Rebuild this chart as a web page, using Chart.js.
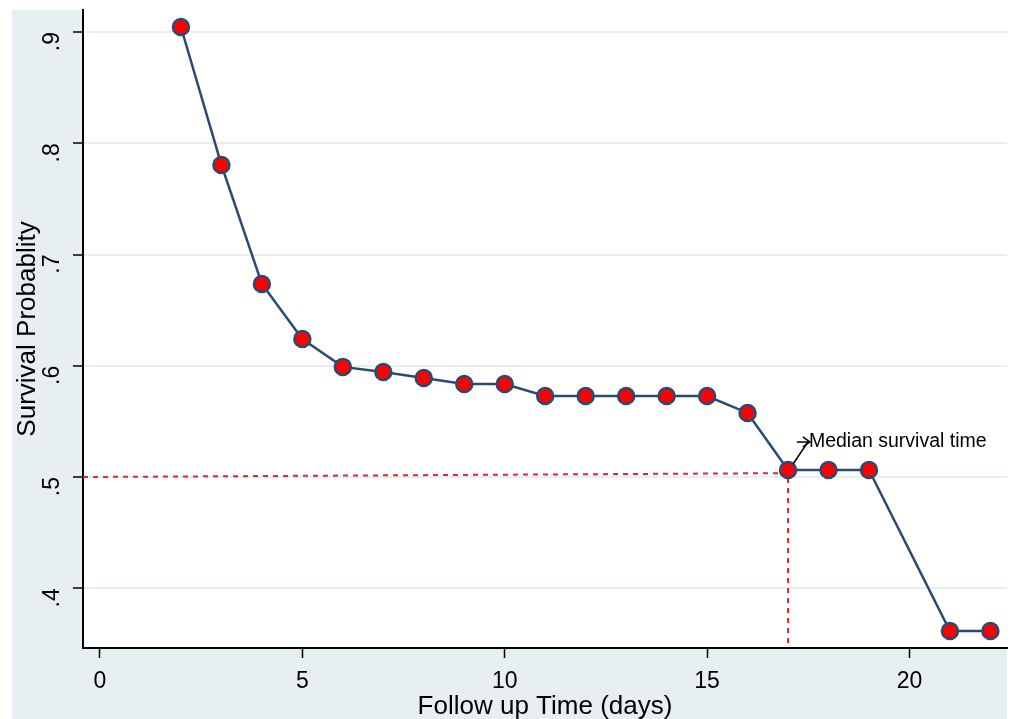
<!DOCTYPE html>
<html>
<head>
<meta charset="utf-8">
<script src="https://cdn.jsdelivr.net/npm/chart.js@4.4.0/dist/chart.umd.min.js"></script>
<style>
  html, body { margin: 0; padding: 0; background: #ffffff; }
  #wrap { width: 1013px; height: 719px; }
</style>
</head>
<body>
<div id="wrap"><canvas id="survChart"></canvas></div>
<script>
// follow up days and survival probability
var days = [2, 3, 4, 5, 6, 7, 8, 9, 10, 11, 12, 13, 14, 15, 16, 17, 18, 19, 21, 22];
var survival = [0.9045, 0.7805, 0.6735, 0.624, 0.599, 0.5944, 0.589, 0.5836, 0.5836, 0.5728,
                0.5728, 0.5728, 0.5728, 0.5728, 0.5576, 0.5063, 0.5063, 0.5063, 0.3616, 0.3616];
var xTicks = [0, 5, 10, 15, 20];
var yTicks = [0.4, 0.5, 0.6, 0.7, 0.8, 0.9];
var medianDay = 17;
var medianLineY = [0.5, 0.5035];
var xRange = [-0.42, 22.41];
var yRange = [0.3463, 0.9198];
var noteText = 'Median survival time';
var notePos = [17.54, 0.5315];

var PANEL = '#e8eff2';
var FONT = "'Liberation Sans', Arial, sans-serif";

var points = days.map(function (d, i) { return { x: d, y: survival[i] }; });

var panelBg = {
    id: 'panelBg',
    beforeDraw: function (chart) {
        var ctx = chart.ctx, a = chart.chartArea;
        ctx.save();
        ctx.fillStyle = PANEL;
        ctx.fillRect(12, 10, a.right - 12, chart.height - 10);
        ctx.fillStyle = '#ffffff';
        ctx.fillRect(a.left, a.top, a.right - a.left, a.bottom - a.top);
        ctx.restore();
    },
    afterDatasetsDraw: function (chart) {
        var ctx = chart.ctx, xs = chart.scales.x, ys = chart.scales.y;
        var x0 = xs.getPixelForValue(medianDay), y0 = ys.getPixelForValue(survival[days.indexOf(medianDay)]);
        var x1 = xs.getPixelForValue(notePos[0]), y1 = ys.getPixelForValue(notePos[1]);
        ctx.save();
        // arrow
        ctx.strokeStyle = '#000000';
        ctx.lineWidth = 1.5;
        ctx.beginPath();
        ctx.moveTo(x0 + 5, y0 - 6);
        ctx.lineTo(x1 - 2, y1);
        ctx.stroke();
        ctx.beginPath();
        ctx.moveTo(x1 - 13, y1);
        ctx.lineTo(x1, y1);
        ctx.moveTo(x1 - 7, y1 - 5);
        ctx.lineTo(x1, y1);
        ctx.lineTo(x1 - 7, y1 + 5);
        ctx.stroke();
        ctx.fillStyle = '#000000';
        ctx.font = '19.5px ' + FONT;
        ctx.textBaseline = 'middle';
        ctx.textAlign = 'left';
        ctx.fillText(noteText, x1 - 1, y1);
        ctx.restore();
    }
};

var ctx = document.getElementById('survChart').getContext('2d');
var myChart = new Chart(ctx, {
    type: 'scatter',
    data: {
        datasets: [{
            label: 'median',
            data: [{ x: xRange[0], y: medianLineY[0] }, { x: medianDay, y: medianLineY[1] },
                   { x: medianDay, y: yRange[0] }],
            showLine: true,
            borderColor: '#ee2222',
            borderWidth: 2,
            borderDash: [5, 5],
            pointRadius: 0,
            order: 2
        }, {
            label: 'Survival',
            data: points,
            showLine: true,
            borderColor: '#2b4a72',
            borderWidth: 2.5,
            pointRadius: 8,
            pointHoverRadius: 8,
            pointBackgroundColor: '#ff0000',
            pointBorderColor: '#2b4a72',
            pointBorderWidth: 2.5,
            order: 1
        }]
    },
    options: {
        responsive: true,
        maintainAspectRatio: false,
        animation: false,
        events: [],
        layout: { autoPadding: false, padding: { left: 12, top: 10, right: 6, bottom: 0 } },
        plugins: { legend: { display: false }, tooltip: { enabled: false } },
        scales: {
            x: {
                type: 'linear',
                min: xRange[0],
                max: xRange[1],
                afterBuildTicks: function (scale) {
                    scale.ticks = xTicks.map(function (v) { return { value: v }; });
                },
                afterFit: function (scale) {
                    scale.height = 71;
                    scale.paddingLeft = 0;
                    scale.paddingRight = 0;
                },
                grid: { drawOnChartArea: false, tickLength: 10, tickColor: '#000000', tickWidth: 1.5 },
                border: { display: true, color: '#000000', width: 2 },
                ticks: { color: '#000000', font: { family: FONT, size: 23 }, padding: 10, maxRotation: 0 },
                title: {
                    display: true, text: 'Follow up Time (days)', color: '#000000',
                    font: { family: FONT, size: 26 }, padding: { top: 0, bottom: -3 }
                }
            },
            y: {
                type: 'linear',
                min: yRange[0],
                max: yRange[1],
                afterBuildTicks: function (scale) {
                    scale.ticks = yTicks.map(function (v) { return { value: v }; });
                },
                afterFit: function (scale) {
                    scale.width = 71;
                    scale.paddingTop = 0;
                    scale.paddingBottom = 0;
                },
                grid: { color: PANEL, lineWidth: 2, tickLength: 10, tickColor: '#000000', tickWidth: 1.5 },
                border: { display: true, color: '#000000', width: 2 },
                ticks: {
                    color: '#000000', font: { family: FONT, size: 23 }, padding: 20,
                    minRotation: 90, maxRotation: 90,
                    callback: function (v) { return v.toFixed(1).replace(/^0/, ''); }
                },
                title: {
                    display: true, text: 'Survival Probablity', color: '#000000',
                    font: { family: FONT, size: 26 }, padding: 0
                }
            }
        }
    },
    plugins: [panelBg]
});
</script>
</body>
</html>
